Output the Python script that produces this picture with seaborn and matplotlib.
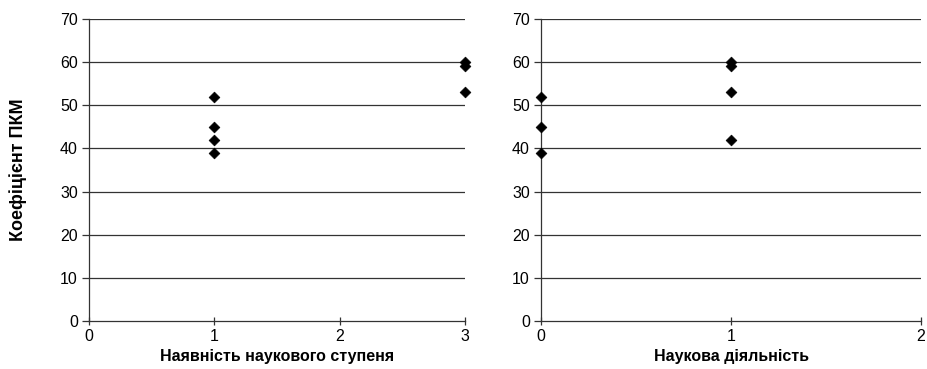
import matplotlib
matplotlib.use("Agg")
import matplotlib.pyplot as plt
import seaborn as sns
import pandas as pd

# Left panel: scientific degree vs. PKM coefficient
degree_x = [1, 1, 1, 1, 3, 3, 3]
degree_y = [52, 45, 42, 39, 60, 59, 53]

# Right panel: research activity vs. PKM coefficient
research_x = [0, 0, 0, 1, 1, 1, 1]
research_y = [52, 45, 39, 60, 59, 53, 42]

y_ticks = [0, 10, 20, 30, 40, 50, 60, 70]
left_xticks = [0, 1, 2, 3]
right_xticks = [0, 1, 2]

y_label = "Коефіцієнт ПКМ"
left_xlabel = "Наявність наукового ступеня"
right_xlabel = "Наукова діяльність"

sns.set_theme(style="white")
plt.rcParams["font.family"] = ["Liberation Sans", "DejaVu Sans"]
plt.rcParams["text.color"] = "black"
plt.rcParams["axes.labelcolor"] = "black"
plt.rcParams["xtick.color"] = "black"
plt.rcParams["ytick.color"] = "black"

fig = plt.figure(figsize=(9.27, 3.69), dpi=100)
ax1 = fig.add_axes([0.096, 0.130, 0.406, 0.8185])
ax2 = fig.add_axes([0.5836, 0.130, 0.410, 0.8185])

df1 = pd.DataFrame({"x": degree_x, "y": degree_y})
df2 = pd.DataFrame({"x": research_x, "y": research_y})

panels = [
    (ax1, df1, left_xticks, left_xlabel),
    (ax2, df2, right_xticks, right_xlabel),
]

for ax, df, xt, xl in panels:
    for yv in y_ticks[1:]:
        ax.axhline(yv, color="#333333", lw=0.9, zorder=1)
    sns.scatterplot(data=df, x="x", y="y", ax=ax, marker="D", s=30,
                    color="black", edgecolor="black", linewidth=0.5,
                    zorder=3, clip_on=False)
    ax.set_xlim(xt[0], xt[-1])
    ax.set_ylim(0, 70)
    ax.set_xticks(xt)
    ax.set_yticks(y_ticks)
    ax.set_xlabel(xl, fontsize=11.5, fontweight="bold", labelpad=3)
    ax.set_ylabel("")
    for side in ["top", "right"]:
        ax.spines[side].set_visible(False)
    for side in ["left", "bottom"]:
        ax.spines[side].set_color("#333333")
        ax.spines[side].set_linewidth(0.9)
    ax.tick_params(axis="y", direction="out", length=5, width=0.9,
                   color="#333333", labelcolor="black", labelsize=11.5,
                   pad=3, left=True)
    ax.tick_params(axis="x", direction="inout", length=6, width=0.9,
                   color="#333333", labelcolor="black", labelsize=11.5,
                   pad=3, bottom=True)

ax1.set_ylabel(y_label, fontsize=13, fontweight="bold", labelpad=24)

fig.savefig("out.png", dpi=100, facecolor="white")
